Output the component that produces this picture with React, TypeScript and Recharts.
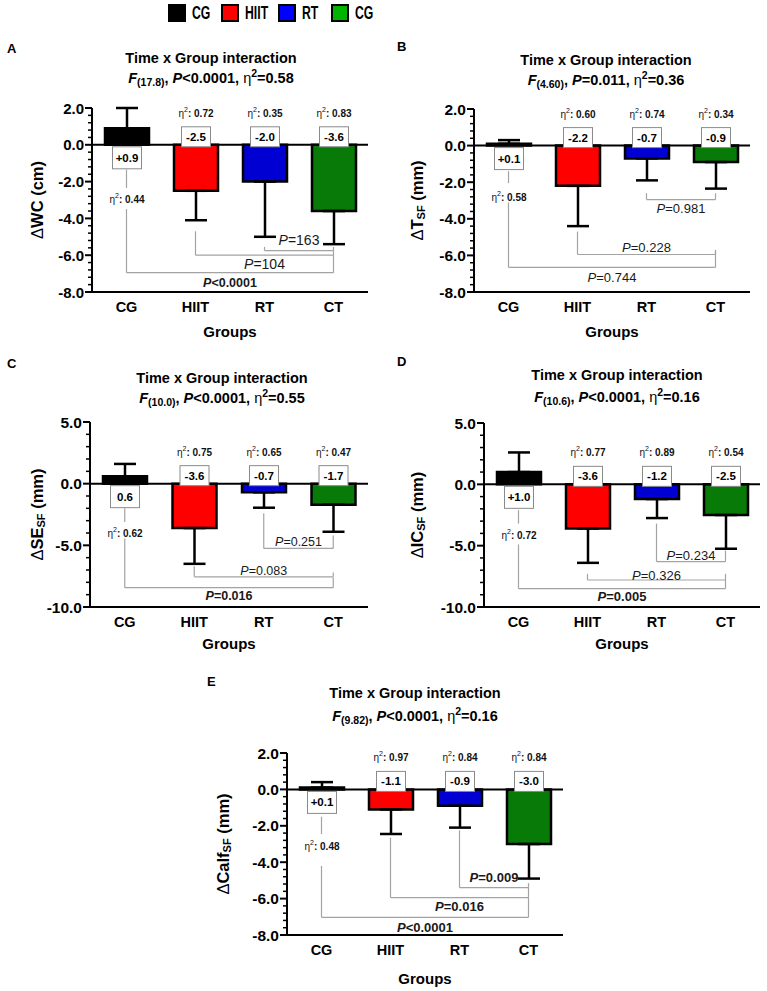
import React from "react";
import {
  BarChart,
  Bar,
  Cell,
  XAxis,
  YAxis,
  ErrorBar,
  ReferenceLine,
  LabelList,
} from "recharts";

const FONT = "'Liberation Sans', Arial, Helvetica, sans-serif";
const GRAY = "#a3a3a3";

// categories + colours
const groups = ["CG", "HIIT", "RT", "CT"];
const barColors = ["#000000", "#ff0000", "#0000d2", "#087a08"];
const legendNames = ["CG", "HIIT", "RT", "CG"];
const legendColors = ["#000000", "#ff0000", "#0000ff", "#00b400"];
const pairs = [["CG", "CT"], ["HIIT", "CT"], ["RT", "CT"]];

// A - waist circumference
const wcMean = [0.9, -2.5, -2.0, -3.6];
const wcSd = [1.1, 1.6, 3.0, 1.8];
const wcEta = [0.44, 0.72, 0.35, 0.83];
const wcText = ["+0.9", "-2.5", "-2.0", "-3.6"];
const wcP = ["<0.0001", "=104", "=163"];

// B - triceps skinfold
const tMean = [0.1, -2.2, -0.7, -0.9];
const tSd = [0.2, 2.2, 1.2, 1.45];
const tEta = [0.58, 0.6, 0.74, 0.34];
const tText = ["+0.1", "-2.2", "-0.7", "-0.9"];
const tP = ["=0.744", "=0.228", "=0.981"];

// C - subscapular skinfold
const seMean = [0.6, -3.6, -0.7, -1.7];
const seSd = [1.0, 2.9, 1.25, 2.2];
const seEta = [0.62, 0.75, 0.65, 0.47];
const seText = ["0.6", "-3.6", "-0.7", "-1.7"];
const seP = ["=0.016", "=0.083", "=0.251"];

// D - iliac crest skinfold
const icMean = [1.0, -3.6, -1.2, -2.5];
const icSd = [1.6, 2.8, 1.55, 2.75];
const icEta = [0.72, 0.77, 0.89, 0.54];
const icText = ["+1.0", "-3.6", "-1.2", "-2.5"];
const icP = ["=0.005", "=0.326", "=0.234"];

// E - calf skinfold
const calfMean = [0.1, -1.1, -0.9, -3.0];
const calfSd = [0.3, 1.35, 1.2, 1.9];
const calfEta = [0.48, 0.97, 0.84, 0.84];
const calfText = ["+0.1", "-1.1", "-0.9", "-3.0"];
const calfP = ["<0.0001", "=0.016", "=0.009"];

const buildRows = (mean: number[], sd: number[], eta: number[], text: string[]) =>
  groups.map((g, i) => ({
    group: g,
    mean: mean[i],
    err: mean[i] >= 0 ? [0, sd[i]] : [sd[i], 0],
    eta: eta[i],
    text: text[i],
  }));

const makeTicks = (lo: number, hi: number, step: number) => {
  const n = Math.round((hi - lo) / step);
  return Array.from({ length: n + 1 }, (_, k) => +(lo + k * step).toFixed(2));
};

type Bracket = { y1: number; level: number; y2: number; side: "above" | "below"; off: number; bold: boolean; fs: number };

const panels = [
  {
    letter: "A", letterPos: [7, 49],
    frame: { left: 0, top: 95, width: 380, height: 250 },
    margin: { top: 13, right: 12, left: 32, bottom: 8 },
    domain: [-8, 2], majors: [-8, -6, -4, -2, 0, 2], minorStep: 0.4, tickFont: 15,
    yLabel: ["WC", "", " (cm)"], yLabelOff: 55, xLabelOff: 39,
    title: { cx: 211, y1: 58, y2: 78 }, fSub: "(17.8)", pMain: "<0.0001", etaMain: "0.58",
    rows: buildRows(wcMean, wcSd, wcEta, wcText), pTexts: wcP,
    etaGap: 30, stub: [-1.35, -2.35],
    brackets: [
      { y1: -3.5, level: -6.95, y2: -6.0, side: "below", off: 10, bold: true, fs: 12.5 },
      { y1: -4.7, level: -6.0, y2: -5.75, side: "below", off: 9, bold: false, fs: 14 },
      { y1: -5.55, level: -5.75, y2: -5.55, side: "above", off: 11, bold: false, fs: 14 },
    ] as Bracket[],
  },
  {
    letter: "B", letterPos: [397, 47],
    frame: { left: 380, top: 95, width: 387, height: 250 },
    margin: { top: 14, right: 17, left: 34, bottom: 8 },
    domain: [-8, 2], majors: [-8, -6, -4, -2, 0, 2], minorStep: 0.4, tickFont: 15.5,
    yLabel: ["T", "SF", " (mm)"], yLabelOff: 57, xLabelOff: 39,
    title: { cx: 606, y1: 60, y2: 80 }, fSub: "(4.60)", pMain: "=0.011", etaMain: "0.36",
    rows: buildRows(tMean, tSd, tEta, tText), pTexts: tP,
    etaGap: 27, stub: [-1.4, -2.05],
    brackets: [
      { y1: -3.1, level: -6.65, y2: -5.75, side: "below", off: 10, bold: false, fs: 13 },
      { y1: -4.7, level: -5.95, y2: -5.7, side: "above", off: 7, bold: false, fs: 13 },
      { y1: -2.6, level: -2.95, y2: -2.6, side: "below", off: 8, bold: false, fs: 13 },
    ] as Bracket[],
  },
  {
    letter: "C", letterPos: [7, 364],
    frame: { left: 0, top: 410, width: 380, height: 250 },
    margin: { top: 12, right: 12, left: 30, bottom: 8 },
    domain: [-10, 5], majors: [-10, -5, 0, 5], minorStep: 1, tickFont: 15.5,
    yLabel: ["SE", "SF", " (mm)"], yLabelOff: 53, xLabelOff: 36,
    title: { cx: 222, y1: 378, y2: 398 }, fSub: "(10.0)", pMain: "<0.0001", etaMain: "0.55",
    rows: buildRows(seMean, seSd, seEta, seText), pTexts: seP,
    etaGap: 25, stub: [-2.0, -3.1],
    brackets: [
      { y1: -4.45, level: -8.43, y2: -7.6, side: "below", off: 8, bold: true, fs: 12.5 },
      { y1: -6.7, level: -7.55, y2: -7.2, side: "above", off: 6, bold: false, fs: 12.5 },
      { y1: -2.4, level: -5.25, y2: -4.2, side: "above", off: 6, bold: false, fs: 12.5 },
    ] as Bracket[],
  },
  {
    letter: "D", letterPos: [397, 362],
    frame: { left: 380, top: 410, width: 387, height: 250 },
    margin: { top: 13, right: 7, left: 44, bottom: 8 },
    domain: [-10, 5], majors: [-10, -5, 0, 5], minorStep: 1, tickFont: 15.5,
    yLabel: ["IC", "SF", " (mm)"], yLabelOff: 67, xLabelOff: 36,
    title: { cx: 617, y1: 375, y2: 397 }, fSub: "(10.6)", pMain: "<0.0001", etaMain: "0.16",
    rows: buildRows(icMean, icSd, icEta, icText), pTexts: icP,
    etaGap: 27, stub: [-2.1, -3.2],
    brackets: [
      { y1: -4.9, level: -8.5, y2: -7.8, side: "below", off: 7, bold: true, fs: 13 },
      { y1: -7.3, level: -7.8, y2: -7.3, side: "above", off: 5, bold: false, fs: 13 },
      { y1: -3.2, level: -6.3, y2: -5.4, side: "above", off: 7, bold: false, fs: 13 },
    ] as Bracket[],
  },
  {
    letter: "E", letterPos: [207, 682],
    frame: { left: 180, top: 740, width: 400, height: 251 },
    margin: { top: 13, right: 17, left: 47, bottom: 11 },
    domain: [-8, 2], majors: [-8, -6, -4, -2, 0, 2], minorStep: 0.4, tickFont: 15.5,
    yLabel: ["Calf", "SF", " (mm)"], yLabelOff: 64, xLabelOff: 43,
    title: { cx: 415, y1: 693, y2: 716 }, fSub: "(9.82)", pMain: "<0.0001", etaMain: "0.16",
    rows: buildRows(calfMean, calfSd, calfEta, calfText), pTexts: calfP,
    etaGap: 33, stub: [-1.5, -2.45],
    brackets: [
      { y1: -4.2, level: -7.03, y2: -5.95, side: "below", off: 10, bold: true, fs: 13 },
      { y1: -2.65, level: -5.95, y2: -5.4, side: "below", off: 8, bold: true, fs: 13 },
      { y1: -2.25, level: -5.4, y2: -5.15, side: "above", off: 11, bold: true, fs: 13 },
    ] as Bracket[],
  },
];

type PanelDef = (typeof panels)[number];

// bar geometry from a LabelList callback
function barGeom(props: any, p: PanelDef) {
  const src = typeof props.x === "number" && typeof props.width === "number" ? props : props.viewBox;
  const mean = p.rows[props.index].mean;
  const top = Math.min(src.y, src.y + src.height);
  const bot = Math.max(src.y, src.y + src.height);
  const zero = mean >= 0 ? bot : top;
  const cx = src.x + src.width / 2;
  const bh = mean >= 0 ? 22 : 20;
  const by = mean >= 0 ? zero + 2 : zero + 2 - bh;
  return { cx, mean, by, bh };
}

const makeBox = (p: PanelDef) => (props: any) => {
  const { cx, by, bh } = barGeom(props, p);
  const bw = 29;
  return (
    <g>
      <rect x={cx - bw / 2} y={by} width={bw} height={bh} fill="#fff" stroke="#8a8a8a" strokeWidth={1} />
      <text x={cx} y={by + bh / 2} textAnchor="middle" dominantBaseline="central" fontSize={11.5} fontWeight="bold" fontFamily={FONT} fill="#000">
        {props.value}
      </text>
    </g>
  );
};

const makeEta = (p: PanelDef) => (props: any) => {
  const { cx, mean, by, bh } = barGeom(props, p);
  const y = mean >= 0 ? by + bh + p.etaGap : by - 14;
  return (
    <text x={cx} y={y} textAnchor="middle" dominantBaseline="central" fontSize={10} fontFamily={FONT} fill="#111">
      <tspan>η</tspan>
      <tspan fontSize={7} dy={-4}>2</tspan>
      <tspan dy={4} fontWeight="bold">: {Number(props.value).toFixed(2)}</tspan>
    </text>
  );
};

function YTick(props: any) {
  const { x, y, payload, majors, fontSize } = props;
  const v = payload.value;
  const isMajor = majors.some((m: number) => Math.abs(m - v) < 1e-6);
  return (
    <g>
      <line x1={x - (isMajor ? 7 : 4)} x2={x} y1={y} y2={y} stroke="#000" strokeWidth={isMajor ? 2 : 1.5} />
      {isMajor && (
        <text x={x - 8} y={y} textAnchor="end" dominantBaseline="central" fontSize={fontSize} fontWeight="bold" fontFamily={FONT} fill="#000">
          {v.toFixed(1)}
        </text>
      )}
    </g>
  );
}

function YLabel(props: any) {
  const { viewBox, parts, off } = props;
  const cx = viewBox.x + viewBox.width - off;
  const cy = viewBox.y + viewBox.height / 2;
  const [main, sub, unit] = parts;
  return (
    <text transform={`translate(${cx},${cy}) rotate(-90)`} textAnchor="middle" dominantBaseline="central" fontSize={16.5} fontWeight="bold" fontFamily={FONT} fill="#000">
      <tspan fontWeight="normal">Δ</tspan>
      <tspan>{main}</tspan>
      {sub ? <tspan fontSize={11} dy={4}>{sub}</tspan> : null}
      <tspan dy={sub ? -4 : 0}>{unit}</tspan>
    </text>
  );
}

function XLabel(props: any) {
  const { viewBox, off } = props;
  return (
    <text x={viewBox.x + viewBox.width / 2} y={viewBox.y + off} textAnchor="middle" dominantBaseline="central" fontSize={15} fontWeight="bold" fontFamily={FONT} fill="#000">
      Groups
    </text>
  );
}

function PLabel(props: any) {
  const { viewBox, text, b } = props;
  const cx = viewBox.x + viewBox.width / 2;
  const y = b.side === "above" ? viewBox.y - b.off : viewBox.y + b.off;
  return (
    <text x={cx} y={y} textAnchor="middle" dominantBaseline="central" fontSize={b.fs} fontWeight={b.bold ? "bold" : "normal"} fontFamily={FONT} fill="#1a1a1a">
      <tspan fontStyle="italic">P</tspan>
      <tspan>{text}</tspan>
    </text>
  );
}

function Title({ p }: { p: PanelDef }) {
  const base: React.CSSProperties = {
    position: "absolute", left: p.title.cx - 160, width: 320, textAlign: "center",
    fontSize: 14.5, fontWeight: "bold", lineHeight: "18px", whiteSpace: "nowrap",
  };
  const small: React.CSSProperties = { fontSize: 10.5, position: "relative" };
  return (
    <>
      <div style={{ ...base, top: p.title.y1 - 9 }}>Time x Group interaction</div>
      <div style={{ ...base, top: p.title.y2 - 9 }}>
        <i>F</i>
        <span style={{ ...small, top: 3 }}>{p.fSub}</span>, <i>P</i>
        {p.pMain}, <span style={{ fontWeight: "normal" }}>η</span>
        <span style={{ ...small, top: -6 }}>2</span>={p.etaMain}
      </div>
    </>
  );
}

function Panel({ p }: { p: PanelDef }) {
  const ticks = makeTicks(p.domain[0], p.domain[1], p.minorStep);
  return (
    <>
      <div style={{ position: "absolute", left: p.letterPos[0], top: p.letterPos[1] - 8, fontSize: 13, fontWeight: "bold", lineHeight: "16px" }}>
        {p.letter}
      </div>
      <Title p={p} />
      <div style={{ position: "absolute", left: p.frame.left, top: p.frame.top }}>
        <BarChart width={p.frame.width} height={p.frame.height} data={p.rows} margin={p.margin}>
          <XAxis
            dataKey="group"
            axisLine={{ stroke: "#000", strokeWidth: 2 }}
            tickLine={false}
            tickSize={0}
            tickMargin={10}
            height={45}
            interval={0}
            tick={{ fill: "#000", fontSize: 14.5, fontWeight: "bold", fontFamily: FONT }}
            label={<XLabel off={p.xLabelOff} />}
          />
          <YAxis
            type="number"
            domain={p.domain}
            ticks={ticks}
            interval={0}
            width={60}
            tickSize={0}
            tickMargin={0}
            tickLine={false}
            axisLine={{ stroke: "#000", strokeWidth: 2 }}
            tick={<YTick majors={p.majors} fontSize={p.tickFont} />}
            label={<YLabel parts={p.yLabel} off={p.yLabelOff} />}
          />
          <ReferenceLine segment={[{ x: "CG", y: p.stub[0] }, { x: "CG", y: p.stub[1] }]} stroke={GRAY} strokeWidth={1.2} />
          {p.brackets.flatMap((b, i) => {
            const [from, to] = pairs[i];
            return [
              <ReferenceLine key={`l${i}`} segment={[{ x: from, y: b.y1 }, { x: from, y: b.level }]} stroke={GRAY} strokeWidth={1.2} />,
              <ReferenceLine
                key={`h${i}`}
                segment={[{ x: from, y: b.level }, { x: to, y: b.level }]}
                stroke={GRAY}
                strokeWidth={1.2}
                label={<PLabel text={p.pTexts[i]} b={b} />}
              />,
              <ReferenceLine key={`r${i}`} segment={[{ x: to, y: b.level }, { x: to, y: b.y2 }]} stroke={GRAY} strokeWidth={1.2} />,
            ];
          })}
          <ReferenceLine y={0} stroke="#000" strokeWidth={2} />
          <Bar dataKey="mean" barSize={44} stroke="#000" strokeWidth={2.5} isAnimationActive={false}>
            {p.rows.map((r, i) => (
              <Cell key={r.group} fill={barColors[i]} />
            ))}
            <ErrorBar dataKey="err" direction="y" width={11} stroke="#000" strokeWidth={2.5} isAnimationActive={false} />
            <LabelList dataKey="text" content={makeBox(p)} />
            <LabelList dataKey="eta" content={makeEta(p)} />
          </Bar>
        </BarChart>
      </div>
    </>
  );
}

const legendX = [168, 221, 278, 331];

function TopLegend() {
  return (
    <>
      {legendNames.map((n, i) => (
        <div key={i} style={{ position: "absolute", left: legendX[i], top: 4, height: 18, display: "flex", alignItems: "center" }}>
          <div style={{ width: 14, height: 14, background: legendColors[i], border: "2px solid #000" }} />
          <span
            style={{
              marginLeft: 6, fontWeight: "bold", fontSize: 18, lineHeight: "18px",
              display: "inline-block", transform: "scaleX(0.68)", transformOrigin: "left center",
            }}
          >
            {n}
          </span>
        </div>
      ))}
    </>
  );
}

export default function App() {
  return (
    <div style={{ position: "absolute", left: 0, top: 0, width: 767, height: 991, background: "#fff", fontFamily: FONT, color: "#000", overflow: "hidden" }}>
      <TopLegend />
      {panels.map((p) => (
        <Panel key={p.letter} p={p} />
      ))}
    </div>
  );
}
